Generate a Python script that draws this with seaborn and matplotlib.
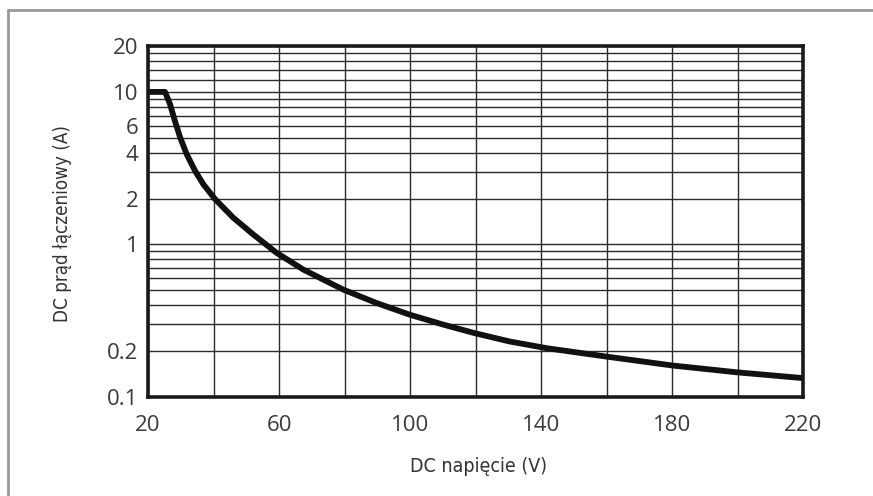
import numpy as np
import pandas as pd
import matplotlib
matplotlib.use("Agg")
import matplotlib.pyplot as plt
import seaborn as sns
from matplotlib.lines import Line2D

# ============================
# DATOS
# ============================
napiecie = [20, 25.2, 26.7, 28.2, 29.8, 31.8, 34.4, 36.9, 40.5, 46, 52.2, 59.3, 67.4,
            79.6, 89.8, 100, 110.2, 119.8, 130.5, 141.7, 160, 180, 200, 220]
prad = [10, 10, 8.34, 6.47, 5.04, 3.91, 3.03, 2.48, 1.98, 1.50, 1.16, 0.88, 0.685,
        0.506, 0.413, 0.346, 0.298, 0.262, 0.231, 0.209, 0.184, 0.161, 0.145, 0.133]

x_ticks = [20, 60, 100, 140, 180, 220]
x_grid = [40, 80, 120, 160, 200]
y_ticks = [0.1, 0.2, 1, 2, 4, 6, 10, 20]
y_tick_labels = ["0.1", "0.2", "1", "2", "4", "6", "10", "20"]
y_grid = [0.3, 0.4, 0.5, 0.6, 0.7, 0.8, 0.9, 3, 5, 7, 8, 9, 12, 14, 16, 18]

df = pd.DataFrame({"V": napiecie, "A": prad})

# ============================
# FIGURA
# ============================
sns.set_style("white")
plt.rcParams["font.family"] = ["Open Sans", "DejaVu Sans"]

fig = plt.figure(figsize=(8.73, 4.96), dpi=100)
ax = fig.add_axes([148 / 873, 1 - 397 / 496, (803 - 148) / 873, (397 - 46) / 496])

sns.lineplot(data=df, x="V", y="A", ax=ax, color="#111111", linewidth=4.2,
             solid_capstyle="butt", solid_joinstyle="round", zorder=5)

ax.set_yscale("log")
ax.set_xlim(20, 220)
ax.set_ylim(0.1, 20)

ax.set_xticks(x_ticks)
ax.set_xticks(x_grid, minor=True)
ax.set_xticklabels([str(v) for v in x_ticks])
ax.set_yticks(y_ticks)
ax.set_yticklabels(y_tick_labels)
ax.set_yticks(y_grid, minor=True)
ax.yaxis.set_minor_formatter(matplotlib.ticker.NullFormatter())

ax.grid(True, which="both", color="#2a2a2a", linewidth=1.0)
ax.tick_params(axis="both", which="major", length=6, width=1.2, color="#222222",
               labelsize=16, labelcolor="#3a3a3a")
ax.tick_params(axis="x", which="major", pad=7)
ax.tick_params(axis="y", which="major", pad=1)
ax.tick_params(axis="both", which="minor", length=0)

for s in ax.spines.values():
    s.set_color("#1a1a1a")
    s.set_linewidth(2.6)
    s.set_zorder(6)

ax.set_xlabel("")
ax.set_ylabel("")
fig.text(478 / 873, 1 - 467 / 496, "DC napięcie (V)", ha="center", va="center",
         fontsize=14, color="#333333", family="DejaVu Sans", fontstretch="condensed")
fig.text(62 / 873, 1 - 224 / 496, "DC prąd łączeniowy (A)", ha="center", va="center",
         rotation=90, fontsize=13.5, color="#333333",
         family="DejaVu Sans", fontstretch="condensed")

# ramka zewnętrzna (lewa i górna)
fig.add_artist(Line2D([8 / 873, 8 / 873], [0, 1 - 10 / 496], transform=fig.transFigure,
                      color="#999999", linewidth=2))
fig.add_artist(Line2D([8 / 873, 1], [1 - 10 / 496, 1 - 10 / 496], transform=fig.transFigure,
                      color="#999999", linewidth=2))

fig.savefig("out.png", dpi=100)
